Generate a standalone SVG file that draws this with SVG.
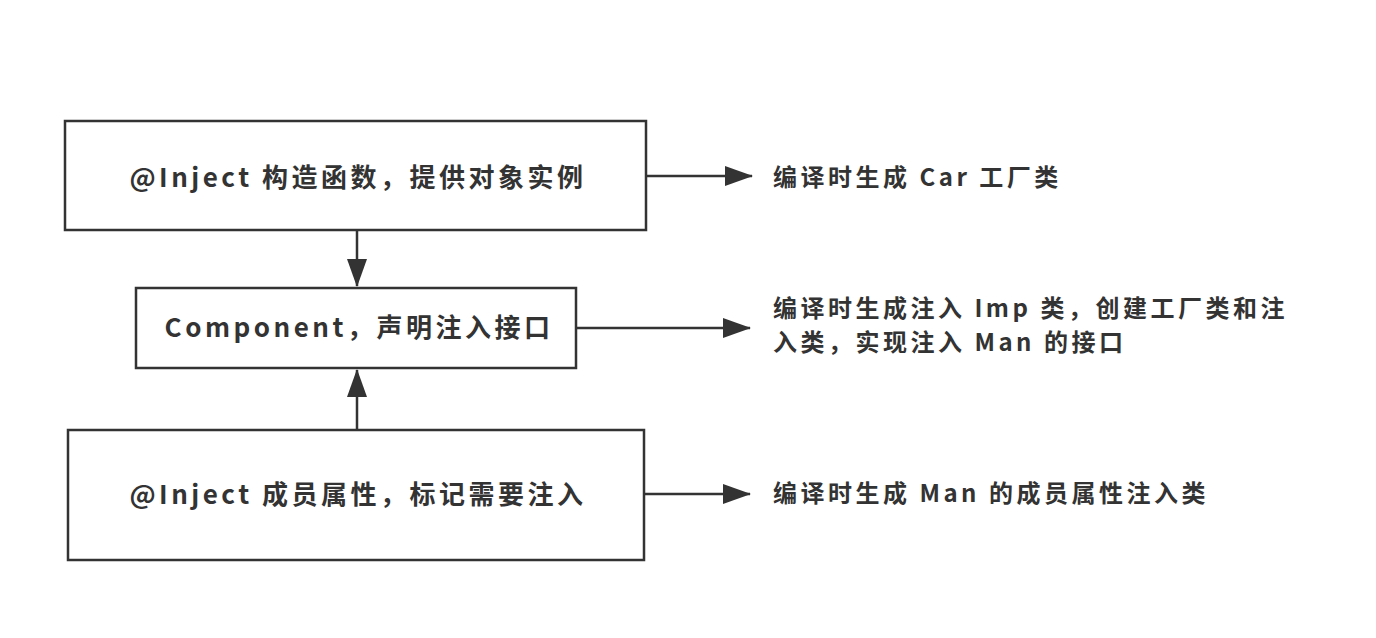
<svg xmlns="http://www.w3.org/2000/svg" width="1376" height="638" viewBox="0 0 1376 638">
<style>
.box{fill:#fff;stroke:#333;stroke-width:2.5}
.t{font-family:"Noto Sans CJK SC","Noto Sans",sans-serif;font-weight:bold;fill:#333;letter-spacing:3.5px}
.n{font-size:26px}
.l{font-size:24px}
.c{stroke:#333;stroke-width:2.5;fill:none}
</style>
<defs>
<marker id="ah2" markerWidth="28" markerHeight="20" refX="27" refY="10" orient="auto" markerUnits="userSpaceOnUse" viewBox="0 0 28 20">
<path d="M0,0 L28,10 L0,20 z" fill="#333"/>
</marker>
</defs>
<rect width="1376" height="638" fill="#fff"/>
<g id="connectors">
<line class="c" x1="357" y1="230" x2="357" y2="286" marker-end="url(#ah2)"/>
<line class="c" x1="357" y1="430" x2="357" y2="370" marker-end="url(#ah2)"/>
<line class="c" x1="646" y1="176" x2="752" y2="176" marker-end="url(#ah2)"/>
<line class="c" x1="576" y1="328" x2="750" y2="328" marker-end="url(#ah2)"/>
<line class="c" x1="644" y1="494" x2="750" y2="494" marker-end="url(#ah2)"/>
</g>
<g id="node1">
<rect class="box" x="65" y="121" width="581" height="109"/>
<text class="t n" x="358" y="187" text-anchor="middle">@Inject 构造函数，提供对象实例</text>
</g>
<g id="node2">
<rect class="box" x="136" y="288" width="440" height="80"/>
<text class="t n" x="359" y="337" text-anchor="middle">Component，声明注入接口</text>
</g>
<g id="node3">
<rect class="box" x="68" y="430" width="576" height="130"/>
<text class="t n" x="358" y="504" text-anchor="middle">@Inject 成员属性，标记需要注入</text>
</g>
<g id="label1">
<text class="t l" x="773" y="186">编译时生成 Car 工厂类</text>
</g>
<g id="label2">
<text class="t l" x="773" y="317">编译时生成注入 Imp 类，创建工厂类和注</text>
<text class="t l" x="773" y="351">入类，实现注入 Man 的接口</text>
</g>
<g id="label3">
<text class="t l" x="773" y="502">编译时生成 Man 的成员属性注入类</text>
</g>
</svg>
